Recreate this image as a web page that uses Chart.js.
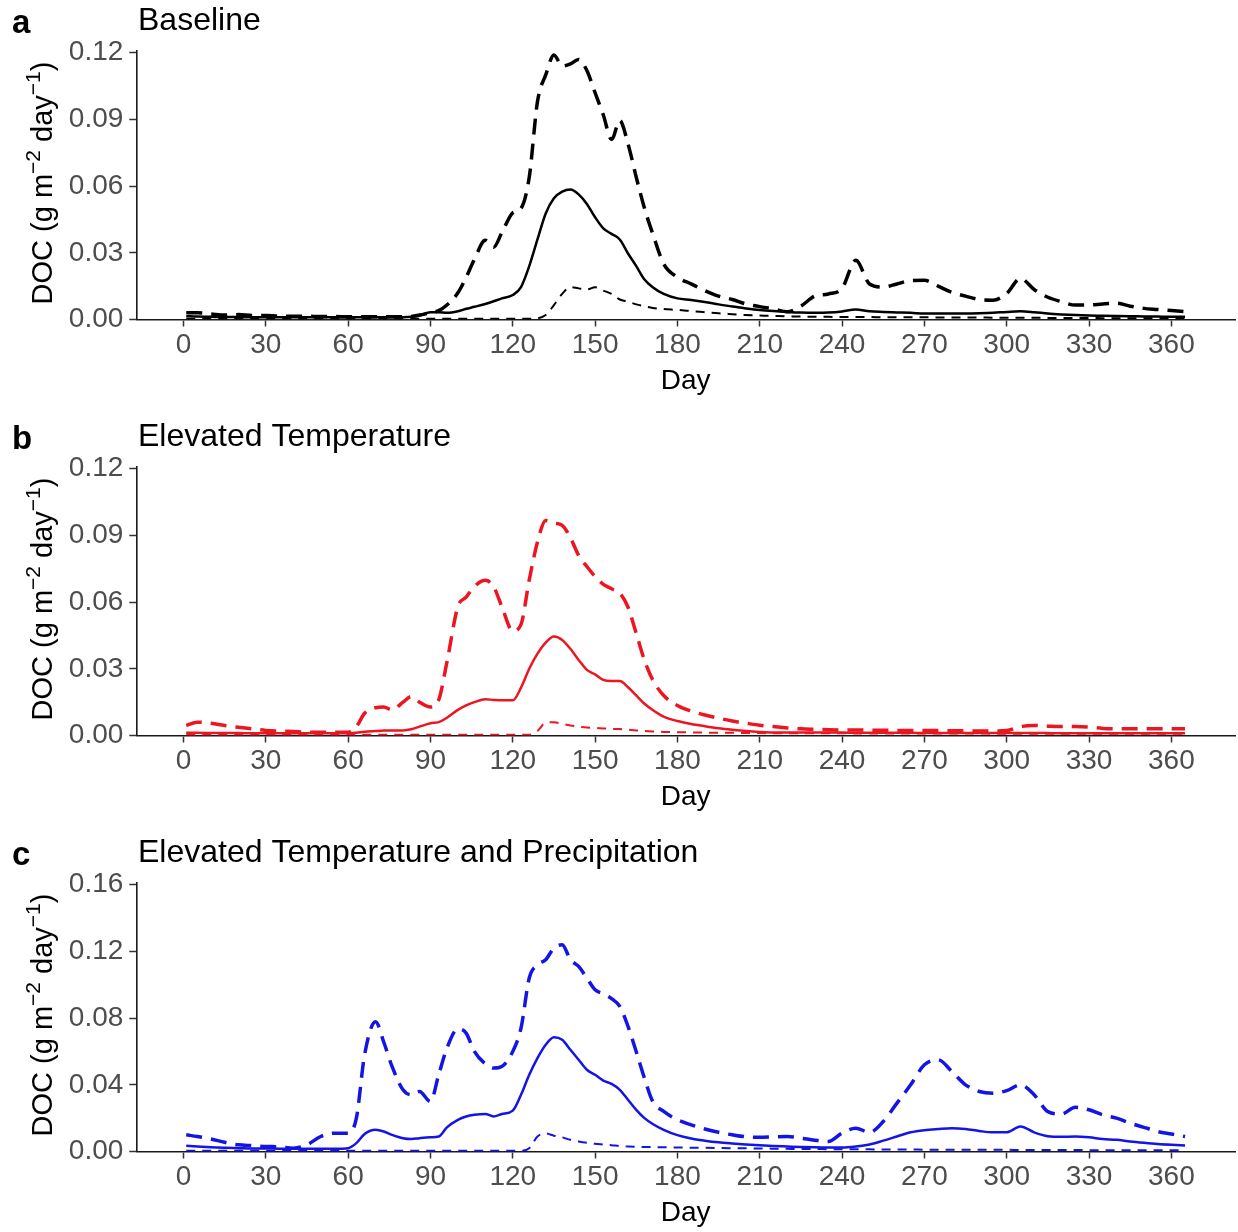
<!DOCTYPE html>
<html>
<head>
<meta charset="utf-8">
<script src="https://cdn.jsdelivr.net/npm/chart.js"></script>
<style>
  html, body { margin: 0; padding: 0; background: #fff; overflow: hidden; }
  #wrap { position: relative; width: 1238px; height: 1232px; overflow: hidden; background: #fff; }
  #wrap canvas { position: absolute; left: 0; }
</style>
</head>
<body>
<div id="wrap">
  <canvas id="panelA" width="1238" height="416" style="top:0px"></canvas>
  <canvas id="panelB" width="1238" height="416" style="top:416px"></canvas>
  <canvas id="panelC" width="1238" height="416" style="top:832px"></canvas>
</div>
<script>
// day of year for every sampled value
const days = [1, 5, 10, 15, 20, 25, 30, 35, 40, 45, 50, 55, 60,
  63, 66, 70, 73, 76, 80, 83, 86, 90, 93, 96, 100, 103, 106, 110, 113, 116, 120, 123, 126,
  129, 132, 135, 138, 141, 144, 147, 150, 153, 156, 159, 162, 165, 168, 171,
  175, 180, 185, 190, 195, 200, 205, 210, 215, 220, 225, 230, 235, 240, 245, 250, 255, 260,
  265, 270, 275, 280, 285, 290, 295, 300, 305, 310, 315, 320, 325, 330, 335, 340, 345, 350,
  355, 360, 365];

const xTicks = [0, 30, 60, 90, 120, 150, 180, 210, 240, 270, 300, 330, 360];
const yTicksAB = [0, 0.03, 0.06, 0.09, 0.12];
const yTicksC = [0, 0.04, 0.08, 0.12, 0.16];

// a: Baseline
const baseHigh = [0.0030, 0.0030, 0.0025, 0.0020, 0.0022, 0.0018, 0.0018, 0.0015, 0.0015, 0.0015, 0.0013, 0.0013, 0.0012,
  0.0012, 0.0012, 0.0012, 0.0012, 0.0012, 0.0012, 0.0014, 0.0020, 0.0030, 0.0040, 0.0065, 0.0120, 0.0190, 0.0270, 0.0356, 0.0325, 0.0390, 0.0480, 0.0500, 0.0640,
  0.0980, 0.1100, 0.1190, 0.1140, 0.1150, 0.1170, 0.1120, 0.1020, 0.0920, 0.0810, 0.0895, 0.0790, 0.0640, 0.0500, 0.0386,
  0.0250, 0.0190, 0.0160, 0.0130, 0.0105, 0.0090, 0.0070, 0.0058, 0.0048, 0.0035, 0.0060, 0.0105, 0.0115, 0.0140, 0.0266, 0.0160, 0.0146, 0.0160,
  0.0175, 0.0176, 0.0150, 0.0122, 0.0105, 0.0090, 0.0087, 0.0117, 0.0185, 0.0135, 0.0100, 0.0080, 0.0065, 0.0065, 0.0070, 0.0073, 0.0060, 0.0050,
  0.0045, 0.0040, 0.0035];
const baseMid = [0.0015, 0.0013, 0.0012, 0.0011, 0.0011, 0.0010, 0.0010, 0.0010, 0.0010, 0.0010, 0.0010, 0.0010, 0.0010,
  0.0010, 0.0010, 0.0010, 0.0010, 0.0010, 0.0010, 0.0012, 0.0018, 0.0033, 0.0033, 0.0030, 0.0037, 0.0048, 0.0057, 0.0070, 0.0082, 0.0095, 0.0110, 0.0146, 0.0240,
  0.0360, 0.0477, 0.0545, 0.0575, 0.0585, 0.0563, 0.0520, 0.0460, 0.0410, 0.0385, 0.0360, 0.0297, 0.0240, 0.0180, 0.0145,
  0.0115, 0.0095, 0.0088, 0.0079, 0.0068, 0.0058, 0.0050, 0.0043, 0.0038, 0.0034, 0.0031, 0.0030, 0.0031, 0.0036, 0.0045, 0.0037, 0.0034, 0.0032,
  0.0030, 0.0027, 0.0027, 0.0027, 0.0027, 0.0028, 0.0030, 0.0034, 0.0037, 0.0033, 0.0027, 0.0023, 0.0020, 0.0018, 0.0017, 0.0016, 0.0015, 0.0014,
  0.0013, 0.0012, 0.0012];
const baseLow = [0.0003, 0.0003, 0.0003, 0.0003, 0.0003, 0.0003, 0.0003, 0.0003, 0.0003, 0.0003, 0.0003, 0.0003, 0.0003,
  0.0003, 0.0003, 0.0003, 0.0003, 0.0003, 0.0003, 0.0003, 0.0003, 0.0003, 0.0003, 0.0003, 0.0003, 0.0003, 0.0003, 0.0003, 0.0003, 0.0003, 0.0003, 0.0003, 0.0003,
  0.0005, 0.0020, 0.0065, 0.0115, 0.0146, 0.0140, 0.0135, 0.0145, 0.0130, 0.0115, 0.0090, 0.0080, 0.0068, 0.0060, 0.0052,
  0.0047, 0.0043, 0.0038, 0.0033, 0.0028, 0.0024, 0.0020, 0.0018, 0.0016, 0.0014, 0.0013, 0.0012, 0.0012, 0.0011, 0.0011, 0.0011, 0.0010, 0.0010,
  0.0010, 0.0010, 0.0009, 0.0009, 0.0009, 0.0009, 0.0008, 0.0008, 0.0008, 0.0008, 0.0007, 0.0007, 0.0007, 0.0007, 0.0006, 0.0006, 0.0006, 0.0006,
  0.0005, 0.0005, 0.0005];

// b: Elevated Temperature
const tempHigh = [0.0045, 0.0060, 0.0055, 0.0045, 0.0037, 0.0030, 0.0023, 0.0020, 0.0018, 0.0015, 0.0015, 0.0015, 0.0015,
  0.0040, 0.0100, 0.0125, 0.0128, 0.0115, 0.0150, 0.0175, 0.0150, 0.0128, 0.0160, 0.0330, 0.0580, 0.0622, 0.0670, 0.0698, 0.0670, 0.0580, 0.0470, 0.0500, 0.0700,
  0.0870, 0.0967, 0.0955, 0.0945, 0.0890, 0.0810, 0.0760, 0.0715, 0.0680, 0.0660, 0.0640, 0.0577, 0.0459, 0.0338, 0.0250,
  0.0180, 0.0135, 0.0110, 0.0092, 0.0078, 0.0065, 0.0055, 0.0046, 0.0040, 0.0034, 0.0030, 0.0028, 0.0026, 0.0025, 0.0025, 0.0024, 0.0024, 0.0023,
  0.0023, 0.0022, 0.0022, 0.0021, 0.0021, 0.0020, 0.0020, 0.0022, 0.0040, 0.0045, 0.0042, 0.0040, 0.0040, 0.0038, 0.0032, 0.0030, 0.0030, 0.0030,
  0.0030, 0.0030, 0.0030];
const tempMid = [0.0012, 0.0012, 0.0011, 0.0011, 0.0011, 0.0010, 0.0010, 0.0010, 0.0010, 0.0010, 0.0010, 0.0010, 0.0010,
  0.0012, 0.0017, 0.0020, 0.0022, 0.0023, 0.0023, 0.0028, 0.0040, 0.0055, 0.0060, 0.0080, 0.0115, 0.0135, 0.0150, 0.0163, 0.0160, 0.0158, 0.0158, 0.0215, 0.0300,
  0.0368, 0.0418, 0.0445, 0.0430, 0.0390, 0.0340, 0.0295, 0.0275, 0.0250, 0.0245, 0.0245, 0.0217, 0.0180, 0.0143, 0.0115,
  0.0085, 0.0065, 0.0052, 0.0042, 0.0033, 0.0026, 0.0020, 0.0016, 0.0014, 0.0014, 0.0013, 0.0013, 0.0013, 0.0013, 0.0012, 0.0012, 0.0012, 0.0012,
  0.0012, 0.0011, 0.0011, 0.0011, 0.0011, 0.0011, 0.0011, 0.0011, 0.0011, 0.0011, 0.0011, 0.0010, 0.0010, 0.0010, 0.0010, 0.0010, 0.0010, 0.0010,
  0.0010, 0.0010, 0.0010];
const tempLow = [0.0003, 0.0003, 0.0003, 0.0003, 0.0003, 0.0003, 0.0003, 0.0003, 0.0003, 0.0003, 0.0003, 0.0003, 0.0003,
  0.0003, 0.0003, 0.0003, 0.0003, 0.0003, 0.0003, 0.0003, 0.0003, 0.0003, 0.0003, 0.0003, 0.0003, 0.0003, 0.0003, 0.0003, 0.0003, 0.0003, 0.0003, 0.0003, 0.0003,
  0.0020, 0.0058, 0.0060, 0.0052, 0.0045, 0.0040, 0.0036, 0.0034, 0.0032, 0.0030, 0.0029, 0.0026, 0.0023, 0.0020, 0.0018,
  0.0016, 0.0015, 0.0014, 0.0013, 0.0012, 0.0012, 0.0011, 0.0011, 0.0010, 0.0010, 0.0010, 0.0010, 0.0010, 0.0010, 0.0009, 0.0009, 0.0009, 0.0009,
  0.0009, 0.0009, 0.0009, 0.0009, 0.0009, 0.0009, 0.0008, 0.0008, 0.0008, 0.0008, 0.0008, 0.0008, 0.0008, 0.0008, 0.0008, 0.0008, 0.0008, 0.0008,
  0.0008, 0.0008, 0.0008];

// c: Elevated Temperature and Precipitation
const precHigh = [0.0100, 0.0090, 0.0075, 0.0055, 0.0040, 0.0035, 0.0030, 0.0028, 0.0020, 0.0040, 0.0090, 0.0110, 0.0110,
  0.0200, 0.0580, 0.0778, 0.0655, 0.0510, 0.0370, 0.0340, 0.0360, 0.0300, 0.0460, 0.0620, 0.0735, 0.0710, 0.0600, 0.0525, 0.0500, 0.0510, 0.0600, 0.0740, 0.1040,
  0.1120, 0.1150, 0.1220, 0.1240, 0.1150, 0.1110, 0.1040, 0.0970, 0.0945, 0.0917, 0.0870, 0.0750, 0.0598, 0.0439, 0.0300,
  0.0240, 0.0190, 0.0160, 0.0135, 0.0115, 0.0100, 0.0088, 0.0085, 0.0088, 0.0090, 0.0080, 0.0068, 0.0060, 0.0110, 0.0140, 0.0115, 0.0180, 0.0290,
  0.0400, 0.0520, 0.0550, 0.0480, 0.0400, 0.0360, 0.0350, 0.0365, 0.0400, 0.0340, 0.0239, 0.0225, 0.0265, 0.0250, 0.0220, 0.0200, 0.0170, 0.0145,
  0.0120, 0.0105, 0.0090];
const precMid = [0.0034, 0.0030, 0.0025, 0.0022, 0.0020, 0.0018, 0.0018, 0.0017, 0.0017, 0.0016, 0.0016, 0.0016, 0.0020,
  0.0050, 0.0105, 0.0130, 0.0120, 0.0100, 0.0080, 0.0075, 0.0080, 0.0085, 0.0090, 0.0145, 0.0190, 0.0210, 0.0220, 0.0225, 0.0210, 0.0225, 0.0245, 0.0340, 0.0460,
  0.0560, 0.0640, 0.0685, 0.0670, 0.0610, 0.0550, 0.0490, 0.0460, 0.0425, 0.0405, 0.0370, 0.0310, 0.0250, 0.0200, 0.0165,
  0.0130, 0.0098, 0.0078, 0.0065, 0.0055, 0.0048, 0.0042, 0.0037, 0.0033, 0.0030, 0.0027, 0.0025, 0.0024, 0.0024, 0.0030, 0.0042, 0.0065, 0.0090,
  0.0115, 0.0128, 0.0135, 0.0140, 0.0135, 0.0123, 0.0115, 0.0115, 0.0150, 0.0115, 0.0092, 0.0088, 0.0090, 0.0085, 0.0075, 0.0070, 0.0060, 0.0052,
  0.0045, 0.0040, 0.0036];
const precLow = [0.0005, 0.0005, 0.0005, 0.0005, 0.0005, 0.0005, 0.0005, 0.0005, 0.0005, 0.0005, 0.0005, 0.0005, 0.0005,
  0.0005, 0.0005, 0.0005, 0.0005, 0.0005, 0.0005, 0.0005, 0.0005, 0.0005, 0.0005, 0.0005, 0.0005, 0.0005, 0.0005, 0.0005, 0.0005, 0.0005, 0.0005, 0.0005, 0.0020,
  0.0090, 0.0108, 0.0095, 0.0085, 0.0070, 0.0060, 0.0052, 0.0046, 0.0042, 0.0038, 0.0033, 0.0030, 0.0028, 0.0027, 0.0026,
  0.0025, 0.0024, 0.0023, 0.0022, 0.0021, 0.0020, 0.0019, 0.0018, 0.0017, 0.0016, 0.0015, 0.0015, 0.0014, 0.0014, 0.0013, 0.0013, 0.0012, 0.0012,
  0.0012, 0.0011, 0.0011, 0.0011, 0.0010, 0.0010, 0.0010, 0.0010, 0.0009, 0.0009, 0.0009, 0.0009, 0.0009, 0.0008, 0.0008, 0.0008, 0.0008, 0.0008,
  0.0008, 0.0008, 0.0008];

const FONT = '"Liberation Sans", Arial, sans-serif';
Chart.defaults.font.family = FONT;

// panel letter, panel title and the y title with superscripts
const panelText = {
  id: 'panelText',
  afterDraw(chart, args, opts) {
    const ctx = chart.ctx;
    const area = chart.chartArea;
    ctx.save();
    ctx.fillStyle = '#000';
    ctx.textAlign = 'left';
    ctx.textBaseline = 'alphabetic';
    ctx.font = 'bold 33px ' + FONT;
    ctx.fillText(opts.letter, 12, 33);
    ctx.font = '32px ' + FONT;
    ctx.fillText(opts.title, 138, 30);

    const big = '29px ' + FONT;
    const small = '21px ' + FONT;
    const parts = [['DOC (g m', big, 0], ['\u22122', small, 12], [' day', big, 0], ['\u22121', small, 12], [')', big, 0]];
    let total = 0;
    parts.forEach(p => { ctx.font = p[1]; total += ctx.measureText(p[0]).width; });
    ctx.translate(52, (area.top + area.bottom) / 2 - 2);
    ctx.rotate(-Math.PI / 2);
    let x = -total / 2;
    parts.forEach(p => {
      ctx.font = p[1];
      ctx.fillText(p[0], x, -p[2]);
      x += ctx.measureText(p[0]).width;
    });
    ctx.restore();
  }
};

const toPoints = arr => days.map((d, i) => ({ x: d, y: arr[i] }));

const axisGrid = { display: true, drawOnChartArea: false, drawTicks: true, tickLength: 7, tickColor: '#333', tickWidth: 1.5 };
const axisBorder = { display: true, color: '#1a1a1a', width: 1.6 };

function makePanel(id, letter, title, color, hi, mid, lo, yTicks, yMax) {
  return new Chart(document.getElementById(id), {
    type: 'line',
    data: {
      datasets: [
        { data: toPoints(hi), borderColor: color, borderWidth: 3.5, borderDash: [16, 9] },
        { data: toPoints(mid), borderColor: color, borderWidth: 2.5 },
        { data: toPoints(lo), borderColor: color, borderWidth: 2, borderDash: [9, 7] }
      ]
    },
    options: {
      responsive: false,
      animation: false,
      devicePixelRatio: 1,
      layout: { padding: { top: 50.5, right: 3, left: 0, bottom: 0 } },
      elements: {
        point: { radius: 0 },
        line: { cubicInterpolationMode: 'monotone', fill: false, borderCapStyle: 'butt' }
      },
      plugins: {
        legend: { display: false },
        tooltip: { enabled: false },
        panelText: { letter: letter, title: title }
      },
      scales: {
        x: {
          type: 'linear',
          min: -17.2,
          max: 383.2,
          afterBuildTicks: s => { s.ticks = xTicks.map(v => ({ value: v })); },
          afterFit: s => { s.height = 96.5; },
          ticks: { color: '#4d4d4d', font: { size: 28 }, padding: 2, maxRotation: 0, autoSkip: false },
          grid: axisGrid,
          border: axisBorder,
          title: { display: true, text: 'Day', color: '#000', font: { size: 28 }, padding: { top: 0, bottom: 18 } }
        },
        y: {
          min: 0,
          max: yMax,
          afterBuildTicks: s => { s.ticks = yTicks.map(v => ({ value: v })); },
          afterFit: s => { s.width = 136.3; },
          ticks: { color: '#4d4d4d', font: { size: 28 }, padding: 6, callback: v => v.toFixed(2) },
          grid: axisGrid,
          border: axisBorder
        }
      }
    },
    plugins: [panelText]
  });
}

makePanel('panelA', 'a', 'Baseline', '#000000', baseHigh, baseMid, baseLow, yTicksAB, 0.121);
makePanel('panelB', 'b', 'Elevated Temperature', '#ec1520', tempHigh, tempMid, tempLow, yTicksAB, 0.121);
makePanel('panelC', 'c', 'Elevated Temperature and Precipitation', '#1414e6', precHigh, precMid, precLow, yTicksC, 0.1613);
</script>
</body>
</html>
